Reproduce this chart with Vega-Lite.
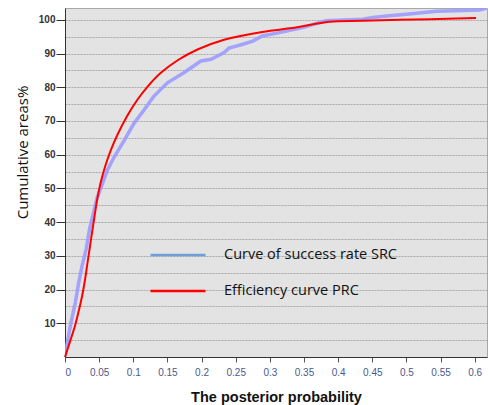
{
  "$schema": "https://vega.github.io/schema/vega-lite/v6.json",
  "width": 422,
  "height": 349,
  "autosize": {"type": "none"},
  "padding": {"left": 65, "top": 8, "right": 1, "bottom": 48},
  "background": "#ffffff",
  "config": {
    "view": {"fill": "#e3e3e3", "stroke": "#a8a8a8", "strokeWidth": 1}
  },
  "data": {
    "values": [
      {"s": "Curve of success rate SRC", "x": 0, "y": 0},
      {"s": "Curve of success rate SRC", "x": 0.004, "y": 5},
      {"s": "Curve of success rate SRC", "x": 0.009, "y": 10.5},
      {"s": "Curve of success rate SRC", "x": 0.015, "y": 16},
      {"s": "Curve of success rate SRC", "x": 0.02, "y": 22},
      {"s": "Curve of success rate SRC", "x": 0.025, "y": 27},
      {"s": "Curve of success rate SRC", "x": 0.031, "y": 32},
      {"s": "Curve of success rate SRC", "x": 0.036, "y": 38},
      {"s": "Curve of success rate SRC", "x": 0.042, "y": 43},
      {"s": "Curve of success rate SRC", "x": 0.047, "y": 47.2},
      {"s": "Curve of success rate SRC", "x": 0.055, "y": 51.5},
      {"s": "Curve of success rate SRC", "x": 0.062, "y": 55.4},
      {"s": "Curve of success rate SRC", "x": 0.072, "y": 59.3},
      {"s": "Curve of success rate SRC", "x": 0.087, "y": 64.3},
      {"s": "Curve of success rate SRC", "x": 0.101, "y": 69.3},
      {"s": "Curve of success rate SRC", "x": 0.116, "y": 73.3},
      {"s": "Curve of success rate SRC", "x": 0.13, "y": 77.3},
      {"s": "Curve of success rate SRC", "x": 0.15, "y": 81.3},
      {"s": "Curve of success rate SRC", "x": 0.174, "y": 84.3},
      {"s": "Curve of success rate SRC", "x": 0.199, "y": 87.8},
      {"s": "Curve of success rate SRC", "x": 0.214, "y": 88.3},
      {"s": "Curve of success rate SRC", "x": 0.233, "y": 90.3},
      {"s": "Curve of success rate SRC", "x": 0.24, "y": 91.6},
      {"s": "Curve of success rate SRC", "x": 0.258, "y": 92.6},
      {"s": "Curve of success rate SRC", "x": 0.275, "y": 93.7},
      {"s": "Curve of success rate SRC", "x": 0.289, "y": 95.2},
      {"s": "Curve of success rate SRC", "x": 0.314, "y": 96.2},
      {"s": "Curve of success rate SRC", "x": 0.348, "y": 97.7},
      {"s": "Curve of success rate SRC", "x": 0.382, "y": 99.7},
      {"s": "Curve of success rate SRC", "x": 0.436, "y": 100.2},
      {"s": "Curve of success rate SRC", "x": 0.451, "y": 100.7},
      {"s": "Curve of success rate SRC", "x": 0.475, "y": 101.2},
      {"s": "Curve of success rate SRC", "x": 0.504, "y": 101.7},
      {"s": "Curve of success rate SRC", "x": 0.544, "y": 102.5},
      {"s": "Curve of success rate SRC", "x": 0.607, "y": 102.9},
      {"s": "Curve of success rate SRC", "x": 0.617, "y": 103.4},
      {"s": "Efficiency curve PRC", "x": 0, "y": 0},
      {"s": "Efficiency curve PRC", "x": 0.008, "y": 5},
      {"s": "Efficiency curve PRC", "x": 0.015, "y": 9.5},
      {"s": "Efficiency curve PRC", "x": 0.0205, "y": 14},
      {"s": "Efficiency curve PRC", "x": 0.025, "y": 18},
      {"s": "Efficiency curve PRC", "x": 0.03, "y": 23.8},
      {"s": "Efficiency curve PRC", "x": 0.033, "y": 28},
      {"s": "Efficiency curve PRC", "x": 0.036, "y": 32},
      {"s": "Efficiency curve PRC", "x": 0.04, "y": 37.5},
      {"s": "Efficiency curve PRC", "x": 0.0425, "y": 40.7},
      {"s": "Efficiency curve PRC", "x": 0.047, "y": 46.6},
      {"s": "Efficiency curve PRC", "x": 0.052, "y": 51.5},
      {"s": "Efficiency curve PRC", "x": 0.057, "y": 55.3},
      {"s": "Efficiency curve PRC", "x": 0.062, "y": 58.5},
      {"s": "Efficiency curve PRC", "x": 0.067, "y": 61.3},
      {"s": "Efficiency curve PRC", "x": 0.077, "y": 66.0},
      {"s": "Efficiency curve PRC", "x": 0.091, "y": 71.5},
      {"s": "Efficiency curve PRC", "x": 0.106, "y": 76.3},
      {"s": "Efficiency curve PRC", "x": 0.121, "y": 80.2},
      {"s": "Efficiency curve PRC", "x": 0.14, "y": 84.2},
      {"s": "Efficiency curve PRC", "x": 0.165, "y": 88.0},
      {"s": "Efficiency curve PRC", "x": 0.194, "y": 91.2},
      {"s": "Efficiency curve PRC", "x": 0.233, "y": 94.1},
      {"s": "Efficiency curve PRC", "x": 0.289, "y": 96.4},
      {"s": "Efficiency curve PRC", "x": 0.338, "y": 97.7},
      {"s": "Efficiency curve PRC", "x": 0.387, "y": 99.4},
      {"s": "Efficiency curve PRC", "x": 0.436, "y": 99.7},
      {"s": "Efficiency curve PRC", "x": 0.534, "y": 100.2},
      {"s": "Efficiency curve PRC", "x": 0.602, "y": 100.5}
    ]
  },
  "encoding": {
    "x": {
      "field": "x", "type": "quantitative",
      "scale": {"domain": [0, 0.618], "nice": false, "zero": false},
      "axis": {
        "title": "The posterior probability",
        "values": [0, 0.05, 0.1, 0.15, 0.2, 0.25, 0.3, 0.35, 0.4, 0.45, 0.5, 0.55, 0.6],
        "format": "~g",
        "grid": false,
        "domainColor": "#333333",
        "tickColor": "#555555",
        "tickSize": 5,
        "labelFont": "Liberation Sans",
        "labelFontSize": 10,
        "labelColor": "#4a5a8c",
        "labelPadding": 5,
        "titleFont": "Liberation Sans",
        "titleFontSize": 14.5,
        "titleFontWeight": "bold",
        "titleColor": "#111111",
        "titlePadding": 13
      }
    },
    "y": {
      "field": "y", "type": "quantitative",
      "scale": {"domain": [0, 103.5], "nice": false},
      "axis": {
        "title": "Cumulative areas%",
        "values": [5, 10, 15, 20, 25, 30, 35, 40, 45, 50, 55, 60, 65, 70, 75, 80, 85, 90, 95, 100],
        "labelExpr": "datum.value % 10 == 0 ? datum.label : ''",
        "tickOpacity": {"condition": {"test": "datum.value % 10 != 0", "value": 0}, "value": 1},
        "grid": true,
        "gridColor": "#a8a8a8",
        "gridDash": [2, 1],
        "gridWidth": 1,
        "domainColor": "#333333",
        "tickColor": "#333333",
        "tickSize": 9,
        "labelFont": "Liberation Sans",
        "labelFontSize": 10,
        "labelFontWeight": "bold",
        "labelColor": "#333333",
        "labelPadding": 1,
        "titleFont": "Open Sans",
        "titleFontSize": 15,
        "titleFontWeight": "normal",
        "titleColor": "#111111",
        "titleX": -43,
        "titleY": 144,
        "titleBaseline": "middle",
        "titleAlign": "center",
        "titleAngle": 270
      }
    },
    "color": {
      "field": "s", "type": "nominal",
      "scale": {"domain": ["Curve of success rate SRC", "Efficiency curve PRC"], "range": ["#6f9fd8", "#ff0000"]},
      "legend": {
        "title": null,
        "orient": "none",
        "legendX": 84,
        "legendY": 218,
        "symbolType": "stroke",
        "symbolSize": 3025,
        "symbolStrokeWidth": 2.5,
        "symbolOpacity": 1,
        "labelFont": "Open Sans",
        "labelFontSize": 14.5,
        "labelColor": "#111111",
        "labelLimit": 0,
        "labelOffset": 17,
        "rowPadding": -20
      }
    }
  },
  "layer": [
    {
      "transform": [{"filter": "datum.s === 'Curve of success rate SRC'"}],
      "mark": {"type": "line", "strokeWidth": 3.5, "opacity": 0.9, "clip": true},
      "encoding": {"color": {"value": "#9b9bff"}}
    },
    {
      "transform": [{"filter": "datum.s === 'Efficiency curve PRC'"}],
      "mark": {"type": "line", "strokeWidth": 2, "interpolate": "catmull-rom"}
    }
  ]
}
